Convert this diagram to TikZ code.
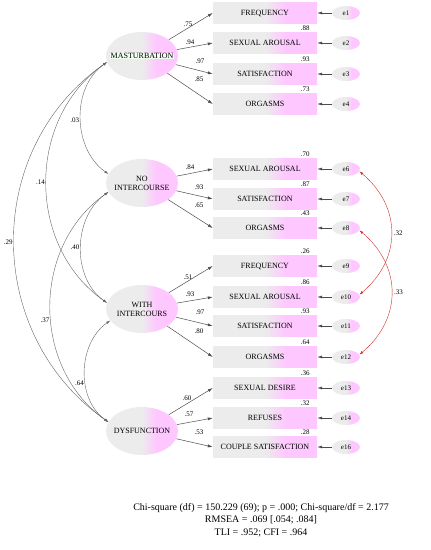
\documentclass[tikz,border=0pt]{standalone}
\usepackage{fontspec}
\setmainfont{Liberation Serif}
\usetikzlibrary{arrows.meta,positioning,shapes.geometric}

\colorlet{amosgray}{gray!15}
\colorlet{amospink}{magenta!22}
\pgfdeclarehorizontalshading{amosfill}{100bp}{color(0bp)=(amosgray); color(50bp)=(amosgray); color(60bp)=(amospink); color(100bp)=(amospink)}

\begin{document}
\begin{tikzpicture}[x=1pt,y=1pt]
  \tikzset{
    lat_ell/.style={ellipse, shade, shading=amosfill, minimum width=72pt, minimum height=48pt, inner sep=0pt},
    lat_txt/.style={font=\fontsize{8}{9}\selectfont, inner sep=0.5pt, align=center},
    obs_box/.style={rectangle, shade, shading=amosfill, minimum width=104pt, minimum height=21pt, inner sep=0pt, font=\fontsize{8}{9}\selectfont},
    err_ell/.style={ellipse, shade, shading=amosfill, minimum width=28pt, minimum height=14pt, inner sep=0pt, font=\fontsize{7}{8}\selectfont},
    load_lbl/.style={font=\fontsize{7}{8}\selectfont, inner sep=0.5pt},
    r2_lbl/.style={font=\fontsize{7}{8}\selectfont, inner sep=0.5pt},
    path_arr/.style={draw=black!70, line width=0.5pt, -{Latex[length=5pt,width=3pt]}},
    cov_arr/.style={draw=black!60, line width=0.4pt, {Latex[length=4pt,width=2.5pt]}-{Latex[length=4pt,width=2.5pt]}},
    ecov_arr/.style={draw=red!65!gray, line width=0.4pt, {Latex[length=4pt,width=2.5pt]}-{Latex[length=4pt,width=2.5pt]}},
  }
  \useasboundingbox (0,0) rectangle (431,-550);

  % latent variables
  \node[lat_ell, label={[lat_txt, fill=green!6]center:MASTURBATION}] (lat_mast) at (142,-56) {};
  \node[lat_ell, label={[lat_txt]center:NO\\INTERCOURSE}] (lat_noint) at (142,-183) {};
  \node[lat_ell, label={[lat_txt]center:WITH\\INTERCOURS}] (lat_with) at (142,-309) {};
  \node[lat_ell, label={[lat_txt]center:DYSFUNCTION}] (lat_dys) at (142,-431) {};

  % observed variables
  \node[obs_box] (m_freq) at (265,-13) {FREQUENCY};
  \node[obs_box] (m_arou) at (265,-43) {SEXUAL AROUSAL};
  \node[obs_box] (m_sat) at (265,-74) {SATISFACTION};
  \node[obs_box] (m_org) at (265,-104) {ORGASMS};
  \node[obs_box] (n_arou) at (265,-169) {SEXUAL AROUSAL};
  \node[obs_box] (n_sat) at (265,-199) {SATISFACTION};
  \node[obs_box] (n_org) at (265,-228) {ORGASMS};
  \node[obs_box] (w_freq) at (265,-266) {FREQUENCY};
  \node[obs_box] (w_arou) at (265,-297) {SEXUAL AROUSAL};
  \node[obs_box] (w_sat) at (265,-326) {SATISFACTION};
  \node[obs_box] (w_org) at (265,-357) {ORGASMS};
  \node[obs_box] (d_des) at (265,-388) {SEXUAL DESIRE};
  \node[obs_box] (d_ref) at (265,-418) {REFUSES};
  \node[obs_box] (d_cs) at (265,-447) {COUPLE SATISFACTION};

  % errors
  \node[err_ell] (err1) at (346,-13) {e1};
  \node[err_ell] (err2) at (346,-43) {e2};
  \node[err_ell] (err3) at (346,-74) {e3};
  \node[err_ell] (err4) at (346,-104) {e4};
  \node[err_ell] (err6) at (346,-169) {e6};
  \node[err_ell] (err7) at (346,-199) {e7};
  \node[err_ell] (err8) at (346,-228) {e8};
  \node[err_ell] (err9) at (346,-266) {e9};
  \node[err_ell] (err10) at (346,-297) {e10};
  \node[err_ell] (err11) at (346,-326) {e11};
  \node[err_ell] (err12) at (346,-357) {e12};
  \node[err_ell] (err13) at (346,-388) {e13};
  \node[err_ell] (err14) at (346,-418) {e14};
  \node[err_ell] (err16) at (346,-447) {e16};

  % loadings
  \draw[path_arr] (lat_mast) -- (m_freq.west);
  \draw[path_arr] (lat_mast) -- (m_arou.west);
  \draw[path_arr] (lat_mast) -- (m_sat.west);
  \draw[path_arr] (lat_mast) -- (m_org.west);
  \draw[path_arr] (lat_noint) -- (n_arou.west);
  \draw[path_arr] (lat_noint) -- (n_sat.west);
  \draw[path_arr] (lat_noint) -- (n_org.west);
  \draw[path_arr] (lat_with) -- (w_freq.west);
  \draw[path_arr] (lat_with) -- (w_arou.west);
  \draw[path_arr] (lat_with) -- (w_sat.west);
  \draw[path_arr] (lat_with) -- (w_org.west);
  \draw[path_arr] (lat_dys) -- (d_des.west);
  \draw[path_arr] (lat_dys) -- (d_ref.west);
  \draw[path_arr] (lat_dys) -- (d_cs.west);

  \node[load_lbl] at (188,-24) {.75};
  \node[load_lbl] at (190,-42) {.94};
  \node[load_lbl] at (200,-61) {.97};
  \node[load_lbl] at (199,-79) {.85};
  \node[load_lbl] at (190,-167) {.84};
  \node[load_lbl] at (199,-187) {.93};
  \node[load_lbl] at (199,-205) {.65};
  \node[load_lbl] at (188,-277) {.51};
  \node[load_lbl] at (190,-294) {.93};
  \node[load_lbl] at (200,-312) {.97};
  \node[load_lbl] at (199,-331) {.80};
  \node[load_lbl] at (187,-398) {.60};
  \node[load_lbl] at (189,-414) {.57};
  \node[load_lbl] at (199,-432) {.53};

  % squared multiple correlations
  \node[r2_lbl, above left=1.5pt and 7pt of m_arou.north east] {.88};
  \node[r2_lbl, above left=1.5pt and 7pt of m_sat.north east] {.93};
  \node[r2_lbl, above left=1.5pt and 7pt of m_org.north east] {.73};
  \node[r2_lbl, above left=1.5pt and 7pt of n_arou.north east] {.70};
  \node[r2_lbl, above left=1.5pt and 7pt of n_sat.north east] {.87};
  \node[r2_lbl, above left=1.5pt and 7pt of n_org.north east] {.43};
  \node[r2_lbl, above left=1.5pt and 7pt of w_freq.north east] {.26};
  \node[r2_lbl, above left=1.5pt and 7pt of w_arou.north east] {.86};
  \node[r2_lbl, above left=1.5pt and 7pt of w_sat.north east] {.93};
  \node[r2_lbl, above left=1.5pt and 7pt of w_org.north east] {.64};
  \node[r2_lbl, above left=1.5pt and 7pt of d_des.north east] {.36};
  \node[r2_lbl, above left=1.5pt and 7pt of d_ref.north east] {.32};
  \node[r2_lbl, above left=1.5pt and 7pt of d_cs.north east] {.28};

  % error paths
  \draw[path_arr] (err1) -- (m_freq);
  \draw[path_arr] (err2) -- (m_arou);
  \draw[path_arr] (err3) -- (m_sat);
  \draw[path_arr] (err4) -- (m_org);
  \draw[path_arr] (err6) -- (n_arou);
  \draw[path_arr] (err7) -- (n_sat);
  \draw[path_arr] (err8) -- (n_org);
  \draw[path_arr] (err9) -- (w_freq);
  \draw[path_arr] (err10) -- (w_arou);
  \draw[path_arr] (err11) -- (w_sat);
  \draw[path_arr] (err12) -- (w_org);
  \draw[path_arr] (err13) -- (d_des);
  \draw[path_arr] (err14) -- (d_ref);
  \draw[path_arr] (err16) -- (d_cs);

  % covariances
  \draw[cov_arr] (lat_mast.190) to[out=215,in=145] node[load_lbl, pos=0.52, left=1pt] {.03} (lat_noint.165);
  \draw[cov_arr] (lat_mast.190) to[out=215,in=145,looseness=1.05] node[load_lbl, pos=0.5, left=1pt] {.14} (lat_with.170);
  \draw[cov_arr] (lat_mast.190) to[out=215,in=145,looseness=1.08] node[load_lbl, pos=0.5, left=1pt] {.29} (lat_dys.165);
  \draw[cov_arr] (lat_noint.195) to[out=215,in=145] node[load_lbl, pos=0.5, left=1pt] {.40} (lat_with.170);
  \draw[cov_arr] (lat_noint.195) to[out=215,in=145,looseness=1.05] node[load_lbl, pos=0.55, left=1pt] {.37} (lat_dys.165);
  \draw[cov_arr] (lat_with.200) to[out=215,in=145] node[load_lbl, pos=0.6, left=1pt] {.64} (lat_dys.165);

  \draw[ecov_arr] (err6.350) to[out=-40,in=40,looseness=1.15] node[load_lbl, pos=0.5, right=2pt] {.32} (err10.10);
  \draw[ecov_arr] (err8.350) to[out=-40,in=40,looseness=1.15] node[load_lbl, pos=0.5, right=2pt] {.33} (err12.10);

  % fit indices
  \node[font=\fontsize{10}{12.5}\selectfont, align=center] (fit_txt) at (261,-520)
    {Chi-square (df) = 150.229 (69); p = .000; Chi-square/df = 2.177\\
     RMSEA = .069 [.054; .084]\\
     TLI = .952; CFI = .964};
\end{tikzpicture}
\end{document}
